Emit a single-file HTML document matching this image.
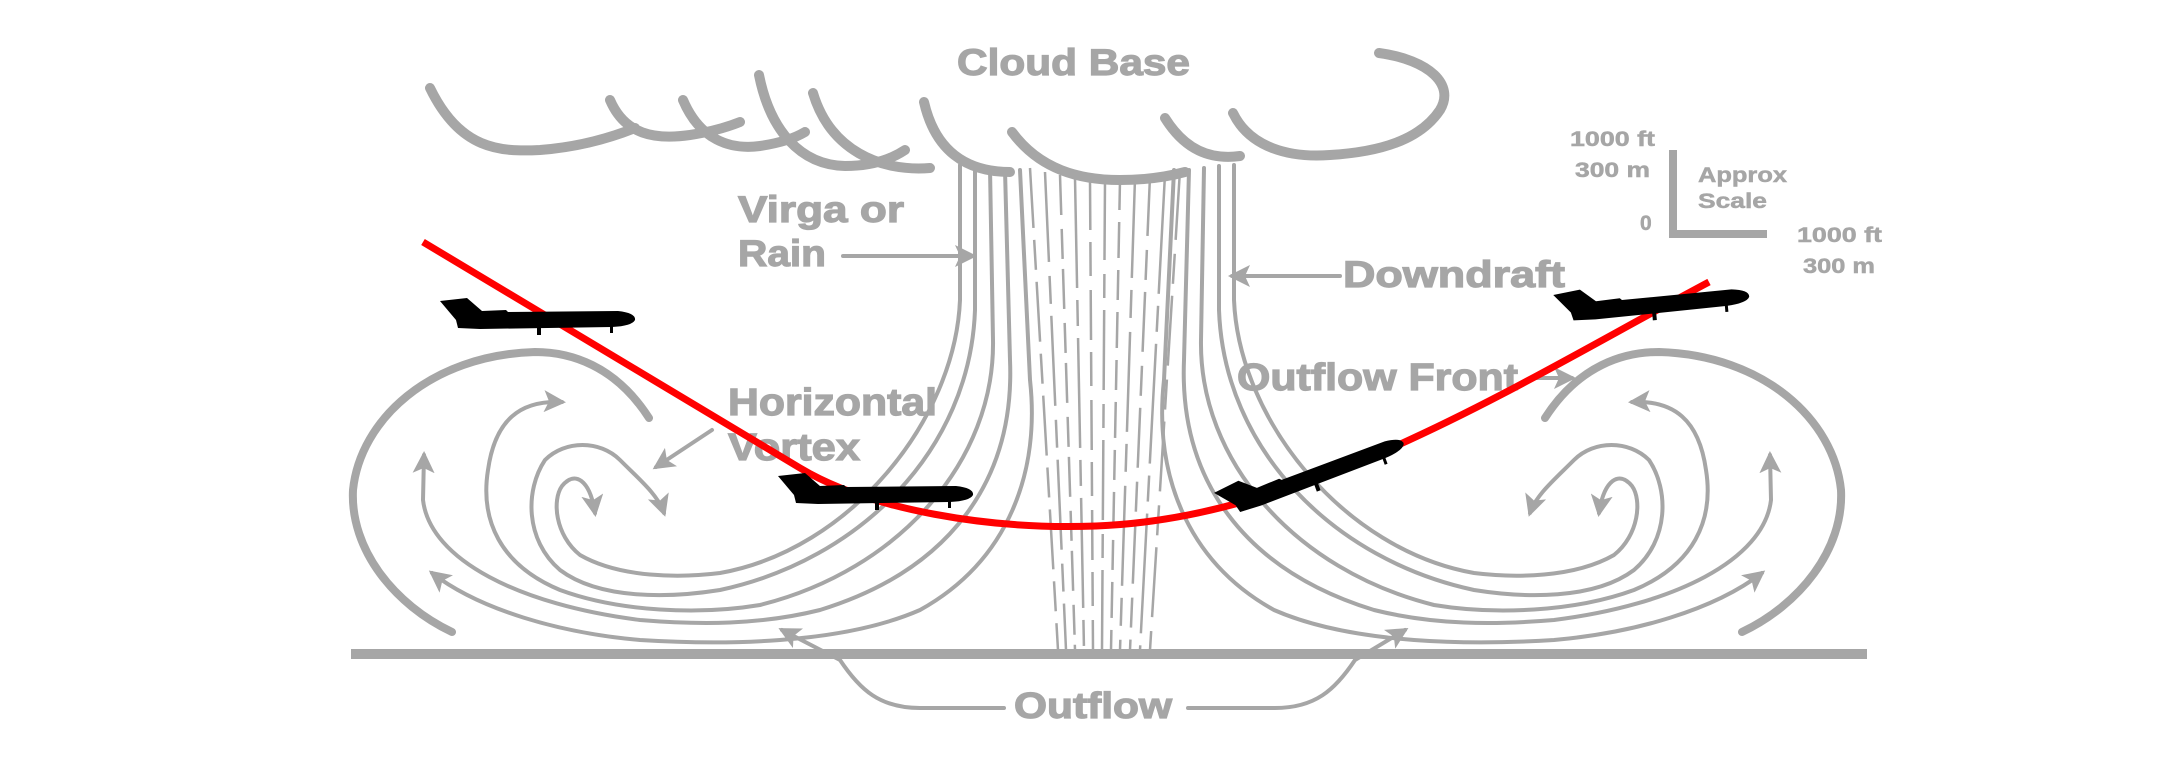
<!DOCTYPE html>
<html><head><meta charset="utf-8"><style>
html,body{margin:0;padding:0;background:#fff;}
svg{display:block;}
text{font-family:"Liberation Sans Narrow","Liberation Sans",sans-serif;font-weight:bold;fill:#a6a6a6;stroke:#a6a6a6;stroke-width:1.2px;}
.s{font-family:"Liberation Sans",sans-serif;font-size:21px;stroke-width:0.5px;}
</style></head><body>
<svg width="2175" height="758" viewBox="0 0 2175 758" xmlns="http://www.w3.org/2000/svg">
<defs>
<marker id="a" markerUnits="userSpaceOnUse" markerWidth="22" markerHeight="22" refX="18" refY="11" orient="auto" viewBox="0 0 22 22">
<path d="M0,0 L22,11 L0,22 L5,11 Z" fill="#a6a6a6"/></marker>
<g id="plane">
<path d="M0,3 L27,0 L42,13 L66,12 L68,14 L178,13 Q196,15 195,22 Q192,28 172,29 L40,31 L18,30 L16,22 Z" fill="#000"/>
<rect x="97" y="29" width="4" height="8" fill="#000"/><rect x="170" y="27" width="3" height="8" fill="#000"/>
</g>
</defs>

<g fill="none" stroke="#a6a6a6" stroke-linecap="round">
<!-- cloud -->
<g stroke-width="10">
<path d="M430,88 C460,150 500,152 540,150 C580,147 610,138 635,128"/>
<path d="M610,100 C625,135 655,140 690,135 C710,132 725,128 740,122"/>
<path d="M683,100 C700,140 730,150 760,146 C780,143 795,138 805,132"/>
<path d="M759,75 C770,130 800,165 845,166 C870,166 890,160 905,150"/>
<path d="M813,93 C830,150 880,172 930,168"/>
<path d="M924,102 C935,150 965,172 1010,172"/>
<path d="M1012,132 C1040,170 1080,180 1120,180 C1150,180 1170,176 1185,172"/>
<path d="M1165,118 C1185,150 1210,160 1240,156"/>
<path d="M1233,113 C1250,148 1290,158 1330,155 C1380,152 1420,140 1440,110 C1455,85 1430,60 1379,53"/>
</g>
<!-- ground -->
<line x1="351" y1="654" x2="1867" y2="654" stroke-width="10" stroke-linecap="butt"/>
<!-- rain -->
<g stroke-width="2.5" stroke-linecap="butt">
<path d="M1030,168 L1058,650" stroke-dasharray="60 12 30 12"/>
<path d="M1045,172 L1066,650" stroke-dasharray="90 14 28 12"/>
<path d="M1060,175 L1075,650" stroke-dasharray="40 14 30 10"/>
<path d="M1075,178 L1084,650" stroke-dasharray="110 12 26 12"/>
<path d="M1090,180 L1093,650" stroke-dasharray="50 12 34 14"/>
<path d="M1105,180 L1102,650" stroke-dasharray="80 14 24 12"/>
<path d="M1120,180 L1111,650" stroke-dasharray="30 12 36 12"/>
<path d="M1135,178 L1120,650" stroke-dasharray="100 12 28 14"/>
<path d="M1150,176 L1130,650" stroke-dasharray="60 14 30 12"/>
<path d="M1165,174 L1140,650" stroke-dasharray="120 12 26 12"/>
<path d="M1180,170 L1150,650" stroke-dasharray="70 14 30 12"/>
</g>
<!-- left vortex -->
<g id="vort">
<path d="M649,418 C615,365 570,352 535,352 C430,355 360,420 353,490 C350,550 395,605 452,632" stroke-width="8"/>
<g stroke-width="4">
<path d="M1020,170 L1030,380 C1040,470 1010,560 920,610 C840,645 720,645 640,640 C560,633 480,610 432,573" marker-end="url(#a)"/>
<path d="M1005,170 L1010,360 C1015,480 950,570 820,610 C760,625 700,625 640,620 C520,605 430,560 423,500 L424,455" marker-end="url(#a)"/>
<path d="M990,168 L993,340 C995,460 900,570 760,605 C700,615 620,612 560,590 C500,565 480,520 488,470 C495,420 520,400 562,402" marker-end="url(#a)"/>
<path d="M975,166 L975,310 C970,450 860,560 720,590 C670,598 600,600 560,570 C525,540 525,490 545,460 C565,440 600,440 620,460 C640,480 658,495 664,513" marker-end="url(#a)"/>
<path d="M960,165 L960,300 C955,420 850,550 720,573 C680,578 620,578 580,555 C555,535 552,500 562,486 C575,470 590,480 595,513" marker-end="url(#a)"/>
</g>
</g>
<use href="#vort" transform="translate(2194,0) scale(-1,1)"/>
<!-- pointers -->
<g stroke-width="4">
<path d="M843,256 L973,256" marker-end="url(#a)"/>
<path d="M1340,276 L1232,276" marker-end="url(#a)"/>
<path d="M1536,378 L1572,378" marker-end="url(#a)"/>
<path d="M712,430 L656,467" marker-end="url(#a)"/>
<path d="M1004,708 L920,708 C880,708 860,690 840,660 L782,630" marker-end="url(#a)"/>
<path d="M1188,708 L1275,708 C1315,708 1335,690 1355,660 L1405,630" marker-end="url(#a)"/>
<line x1="1673" y1="150" x2="1673" y2="234" stroke-width="8" stroke-linecap="butt"/>
<line x1="1669" y1="234" x2="1767" y2="234" stroke-width="8" stroke-linecap="butt"/>
</g>
</g>

<!-- labels -->
<text x="957" y="75" font-size="37" textLength="233" lengthAdjust="spacingAndGlyphs">Cloud Base</text>
<text x="738" y="222" font-size="37" textLength="166" lengthAdjust="spacingAndGlyphs">Virga or</text>
<text x="738" y="266" font-size="37" textLength="88" lengthAdjust="spacingAndGlyphs">Rain</text>
<text x="1343" y="287" font-size="37" textLength="222" lengthAdjust="spacingAndGlyphs">Downdraft</text>
<text x="1237" y="390" font-size="38" textLength="281" lengthAdjust="spacingAndGlyphs">Outflow Front</text>
<text x="728" y="415" font-size="38" textLength="209" lengthAdjust="spacingAndGlyphs">Horizontal</text>
<text x="728" y="460" font-size="38" textLength="132" lengthAdjust="spacingAndGlyphs">Vortex</text>
<text x="1014" y="718" font-size="36" textLength="158" lengthAdjust="spacingAndGlyphs">Outflow</text>
<text class="s" x="1570" y="146" textLength="85" lengthAdjust="spacingAndGlyphs">1000 ft</text>
<text class="s" x="1575" y="177" textLength="75" lengthAdjust="spacingAndGlyphs">300 m</text>
<text class="s" x="1640" y="230">0</text>
<text class="s" x="1698" y="182" textLength="89" lengthAdjust="spacingAndGlyphs">Approx</text>
<text class="s" x="1698" y="208" textLength="69" lengthAdjust="spacingAndGlyphs">Scale</text>
<text class="s" x="1797" y="242" textLength="85" lengthAdjust="spacingAndGlyphs">1000 ft</text>
<text class="s" x="1803" y="273" textLength="72" lengthAdjust="spacingAndGlyphs">300 m</text>

<!-- flight path -->
<path d="M423,242 L800,468 C870,510 990,530 1096,526 C1200,522 1290,490 1387,450 C1500,400 1600,340 1709,282" fill="none" stroke="#f00" stroke-width="7"/>

<!-- planes -->
<use href="#plane" transform="translate(440,298)"/>
<use href="#plane" transform="translate(778,473)"/>
<use href="#plane" transform="translate(1213,490) rotate(-20)"/>
<use href="#plane" transform="translate(1553,292) rotate(-5)"/>
</svg>
</body></html>
